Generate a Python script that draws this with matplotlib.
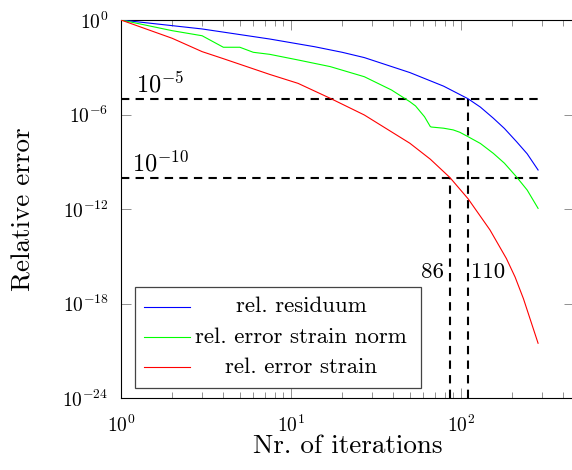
import numpy as np
import matplotlib
matplotlib.use("Agg")
import matplotlib.pyplot as plt
from matplotlib.patches import Rectangle
from matplotlib.ticker import LogLocator, FixedLocator, NullFormatter, NullLocator

plt.rcParams['font.family'] = 'cmr10'
plt.rcParams['mathtext.fontset'] = 'cm'
plt.rcParams['axes.formatter.use_mathtext'] = True

# relative residuum
res_it = [1, 3, 7.5, 13.8, 20, 27, 50, 79, 110, 130, 155, 180, 212, 245, 284]
res_err = [1, 2.7e-1, 6.2e-2, 2.0e-2, 8.9e-3, 4.1e-3, 4.6e-4, 6.3e-5, 1.0e-5, 2.95e-6,
           5.8e-7, 1.3e-7, 1.9e-8, 3.2e-9, 3.0e-10]

# relative error of the strain norm
norm_it = [1, 2, 3, 4, 5, 6, 7.5, 11, 17, 27, 39, 50, 54, 61, 66, 67, 79, 90, 98.5, 110,
           130, 155, 180, 212, 245, 284]
norm_err = [1, 2.1e-1, 1.0e-1, 1.86e-2, 1.86e-2, 8.9e-3, 6.6e-3, 2.9e-3, 1.1e-3, 2.5e-4,
            3.6e-5, 6.5e-6, 3.5e-6, 7.2e-7, 1.7e-7, 1.6e-7, 1.35e-7, 1.05e-7, 7.4e-8, 3.9e-8,
            1.45e-8, 3.4e-9, 8.1e-10, 1.1e-10, 1.6e-11, 1.1e-12]

# relative error of the strain
strain_it = [1, 2, 3, 4, 7.5, 11, 17, 27, 50, 66, 86, 110, 148, 185, 208, 233, 284]
strain_err = [1, 6.9e-2, 9.8e-3, 3.5e-3, 3.5e-4, 9.5e-5, 1.07e-5, 9.3e-7, 1.5e-8, 1.45e-9,
              1.0e-10, 4.5e-12, 4.7e-14, 7.1e-16, 4.8e-17, 2.0e-18, 3.0e-21]

labels = ["rel. residuum", "rel. error strain norm", "rel. error strain"]
colors = ["#0000ff", "#00ff00", "#ff0000"]

tols = [1e-5, 1e-10]
tol_labels = [r"$10^{-5}$", r"$10^{-10}$"]
hit_it = [110, 86]        # iterations at which the tolerance is reached
hit_tol = [1e-5, 1e-10]
it_max = 284

fig = plt.figure(figsize=(5.72, 4.70), dpi=100)
ax = fig.add_axes([121 / 572, 72 / 470, 453 / 572, 378 / 470])
ax.set_xscale('log')
ax.set_yscale('log')

series = [(res_it, res_err), (norm_it, norm_err), (strain_it, strain_err)]
for (it, err), c in zip(series, colors):
    ax.plot(it, err, color=c, lw=0.8, zorder=3)

for t, tl in zip(tols, tol_labels):
    ax.plot([1, it_max], [t, t], color='k', lw=1.5, dashes=(4, 3), zorder=2)
    ax.annotate(tl, (1.7, t), xytext=(0, 1), textcoords='offset points',
                ha='center', va='bottom', fontsize=17.5)

for h, t in zip(hit_it, hit_tol):
    ax.plot([h, h], [1e-24, t], color='k', lw=1.5, dashes=(4, 3), zorder=2)
ax.annotate(str(hit_it[1]), (hit_it[1], 1e-16), xytext=(-4, 0), textcoords='offset points',
            ha='right', va='center', fontsize=16.5)
ax.annotate(str(hit_it[0]), (hit_it[0], 1e-16), xytext=(2, 0), textcoords='offset points',
            ha='left', va='center', fontsize=16.5)

ax.set_xlim(1, 462)
ax.set_ylim(1e-24, 1)
ax.xaxis.set_major_locator(LogLocator(base=10))
ax.xaxis.set_minor_locator(LogLocator(base=10, subs=np.arange(2, 10)))
ax.xaxis.set_minor_formatter(NullFormatter())
ax.yaxis.set_major_locator(FixedLocator([1e-24, 1e-18, 1e-12, 1e-6, 1]))
ax.yaxis.set_minor_locator(NullLocator())
ax.tick_params(which='both', direction='in', top=True, right=True, color='#808080', width=0.6,
               labelsize=14)
ax.tick_params(axis='y', pad=9)
ax.tick_params(axis='x', pad=12)
ax.tick_params(which='major', length=7)
ax.tick_params(which='minor', length=4.5)
for s in ax.spines.values():
    s.set_linewidth(0.8)

ax.set_xlabel("Nr. of iterations", fontsize=19.5)
ax.set_ylabel("Relative error", fontsize=19.5)
ax.xaxis.set_label_coords(0.5, -0.097)
ax.yaxis.set_label_coords(-0.189, 0.5)

# legend drawn as in the pgfplots original: handles left, text centred
ax.add_patch(Rectangle((0.031, 0.027), 0.631, 0.267, transform=ax.transAxes,
                       facecolor='white', edgecolor='#444444', lw=0.9, zorder=5))
for lab, c, y in zip(labels, colors, [0.2415, 0.162, 0.081]):
    ax.plot([0.051, 0.152], [y, y], color=c, lw=0.8, transform=ax.transAxes, zorder=6)
    ax.text(0.398, y, lab, transform=ax.transAxes, ha='center', va='center',
            fontsize=16.5, zorder=6)

fig.savefig("out.png", dpi=100)
